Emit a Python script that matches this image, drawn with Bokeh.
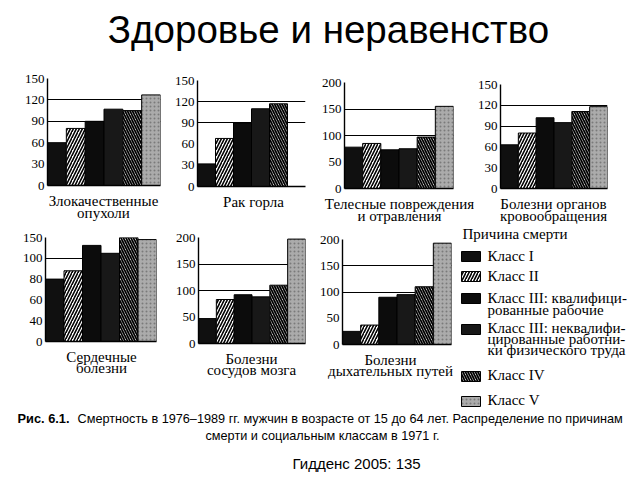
import numpy as np
from bokeh.plotting import figure
from bokeh.models import Range1d, FixedTicker, Label
from bokeh.layouts import column, row
from bokeh.embed import file_html
from bokeh.resources import INLINE

# ---------------- data ----------------
CLASSES = ["Класс I", "Класс II", "Класс III: квалифицированные рабочие",
           "Класс III: неквалифицированные работники физического труда",
           "Класс IV", "Класс V"]

MALIGNANT = [60, 80, 90, 107, 105, 127]
THROAT = [32, 68, 90, 110, 117, None]
INJURY = [78, 85, 73, 75, 97, 155]
CIRCULATORY = [63, 80, 102, 95, 111, 118]
HEART = [80, 88, 131, 112, 150, 145]
CEREBRO = [47, 83, 92, 88, 110, 197]
RESPIRATORY = [25, 37, 90, 95, 110, 193]

TICKS_150 = [0, 30, 60, 90, 120, 150]
TICKS_200 = [0, 50, 100, 150, 200]
TICKS_HEART = [0, 40, 60, 80, 100, 150]

LABEL_MALIGNANT = ["Злокачественные", "опухоли"]
LABEL_THROAT = ["Рак горла"]
LABEL_INJURY = ["Телесные повреждения", "и отравления"]
LABEL_CIRCULATORY = ["Болезни органов", "кровообращения"]
LABEL_HEART = ["Сердечные", "болезни"]
LABEL_CEREBRO = ["Болезни", "сосудов мозга"]
LABEL_RESPIRATORY = ["Болезни", "дыхательных путей"]

TITLE = "Здоровье и неравенство"
CAPTION_BOLD = "Рис. 6.1."
CAPTION_1 = "Смертность в 1976–1989 гг. мужчин в возрасте от 15 до 64 лет. Распределение по причинам"
CAPTION_2 = "смерти и социальным классам в 1971 г."
SOURCE = "Гидденс 2005: 135"
LEGEND_TITLE = "Причина смерти"
LEGEND_LINES = [["Класс I"], ["Класс II"], ["Класс III: квалифици-", "рованные рабочие"],
                ["Класс III: неквалифи-", "цированные работни-", "ки физического труда"],
                ["Класс IV"], ["Класс V"]]

# ---------------- styles ----------------
STYLES = [
    dict(fill_color="#101010", hatch_pattern=" ", hatch_color="black"),
    dict(fill_color="white", hatch_pattern="/", hatch_color="black", hatch_scale=6, hatch_weight=1.6),
    dict(fill_color="#0c0c0c", hatch_pattern=" ", hatch_color="black"),
    dict(fill_color="#181818", hatch_pattern=" ", hatch_color="black"),
    dict(fill_color="white", hatch_pattern="\\", hatch_color="black", hatch_scale=5, hatch_weight=1.8),
    dict(fill_color="#ababab", hatch_pattern=".", hatch_color="#7a7a7a", hatch_scale=4, hatch_weight=1),
]
SERIF = "Liberation Serif"
SANS = "Liberation Sans"


def mini(values, ticks, width, height, left, right, top, bottom, piecewise=False):
    ymax = (len(ticks) - 1) if piecewise else ticks[-1]
    p = figure(width=width, height=height, min_border_left=left, min_border_right=right,
               min_border_top=top, min_border_bottom=bottom, title=None,
               x_range=Range1d(0, 6), y_range=Range1d(0, ymax),
               output_backend="svg", toolbar_location=None, tools="")
    p.outline_line_color = None
    for i, v in enumerate(values):
        if v is None:
            continue
        top_v = float(np.interp(v, ticks, np.arange(len(ticks)))) if piecewise else v
        p.vbar(x=[i + 0.5], top=[top_v], bottom=0, width=1.0, line_color="black",
               line_width=1, **STYLES[i])
    pos = list(range(len(ticks))) if piecewise else list(ticks)
    p.yaxis.ticker = FixedTicker(ticks=pos)
    if piecewise:
        p.yaxis.major_label_overrides = {k: str(t) for k, t in zip(pos, ticks)}
    p.yaxis.major_tick_out = 0
    p.yaxis.major_tick_in = 0
    p.yaxis.minor_tick_out = 0
    p.yaxis.minor_tick_in = 0
    p.yaxis.major_label_standoff = 3
    p.yaxis.major_label_text_font = SERIF
    p.yaxis.major_label_text_font_size = "13px"
    p.yaxis.major_label_text_color = "black"
    p.yaxis.axis_line_color = "black"
    p.yaxis.axis_line_width = 1.4
    p.xaxis.ticker = FixedTicker(ticks=[])
    p.xaxis.major_tick_out = 0
    p.xaxis.major_tick_in = 0
    p.xaxis.minor_tick_out = 0
    p.xaxis.minor_tick_in = 0
    p.xaxis.major_label_standoff = 0
    p.xaxis.axis_label_standoff = 0
    p.xaxis.major_label_text_font_size = "0px"
    p.xaxis.axis_line_color = "black"
    p.xaxis.axis_line_width = 1.4
    p.xgrid.visible = False
    p.ygrid.ticker = FixedTicker(ticks=pos[-3:])
    p.ygrid.grid_line_color = "black"
    p.ygrid.grid_line_width = 1
    p.ygrid.grid_line_alpha = 1
    return p


def blank(x0, x1, y0, y1):
    p = figure(width=x1 - x0, height=y1 - y0, x_range=Range1d(x0, x1), y_range=Range1d(y1, y0),
               min_border=0, x_axis_type=None, y_axis_type=None, title=None,
               output_backend="svg", toolbar_location=None, tools="")
    p.outline_line_color = None
    p.xgrid.visible = False
    p.ygrid.visible = False
    return p


def label(p, x, y, text, size, font, align="left", style="normal"):
    # y is the wanted baseline; the label is anchored at its middle
    p.add_layout(Label(x=x, y=y - 0.36 * size, text=text, text_align=align,
                       text_baseline="alphabetic", text_font=font,
                       text_font_size=f"{size}px", text_color="black",
                       text_font_style=style))


def strip(x0, x1, y0, y1, cx, lines, bases):
    s = blank(x0, x1, y0, y1)
    for ln, yb in zip(lines, bases):
        label(s, cx, yb, ln, 15, SERIF, "center")
    return s


# title (page y 0..60)
ft = blank(0, 640, 0, 60)
label(ft, 328, 43, TITLE, 38.5, SANS, "center")

# row 1 (page y 60..225): chart + its category label below
f1 = mini(MALIGNANT, TICKS_150, 168, 132, 47, 8, 18, 7)
s1 = strip(0, 168, 192, 225, 103, LABEL_MALIGNANT, (206, 218))
f2 = mini(THROAT, TICKS_150, 150, 133, 29, 13, 20, 7)
s2 = strip(168, 318, 193, 225, 253, LABEL_THROAT, (207,))
f3 = mini(INJURY, TICKS_200, 156, 135, 26, 21, 22, 7)
s3 = strip(318, 474, 195, 225, 399, LABEL_INJURY, (209, 221))
f4 = mini(CIRCULATORY, TICKS_150, 166, 135, 24, 33, 24, 7)
s4 = strip(474, 640, 195, 225, 553, LABEL_CIRCULATORY, (209, 221))

# row 2 (page y 225..410)
f5 = mini(HEART, TICKS_HEART, 172, 123, 45, 16, 12, 7, piecewise=True)
s5 = strip(0, 172, 348, 410, 101, LABEL_HEART, (362, 373))
f6 = mini(CEREBRO, TICKS_200, 144, 125, 23, 11, 12, 7)
s6 = strip(172, 316, 350, 410, 251, LABEL_CEREBRO, (364, 375))
f7 = mini(RESPIRATORY, TICKS_200, 144, 126, 24, 9, 14, 7)
s7 = strip(316, 460, 351, 410, 390, LABEL_RESPIRATORY, (365, 376))

# legend
fl = blank(460, 640, 225, 410)
label(fl, 462, 239, LEGEND_TITLE, 15, SERIF)
sw_top = [251, 271, 293, 324, 371, 396]
txt_base = [[261], [281], [303, 315], [333, 344, 355], [380], [405]]
for i, st in enumerate(STYLES):
    fl.quad(left=[461], right=[480], top=[sw_top[i]], bottom=[sw_top[i] + 10],
            line_color="black", line_width=1, **st)
    for ln, yb in zip(LEGEND_LINES[i], txt_base[i]):
        label(fl, 487, yb, ln, 15, SERIF)

# caption (page y 410..480)
fc = blank(0, 640, 410, 480)
label(fc, 17, 423, CAPTION_BOLD, 12.8, SANS, style="bold")
label(fc, 77, 423, CAPTION_1, 12.7, SANS)
label(fc, 322, 440, CAPTION_2, 12.7, SANS, "center")
label(fc, 292, 468, SOURCE, 15, SANS)


def cell(f, s):
    return column(column(f), column(s))


layout = column(
    ft,
    row(cell(f1, s1), cell(f2, s2), cell(f3, s3), cell(f4, s4)),
    row(cell(f5, s5), cell(f6, s6), cell(f7, s7), column(fl)),
    fc,
)
open("out.html", "w").write(file_html(layout, INLINE))
